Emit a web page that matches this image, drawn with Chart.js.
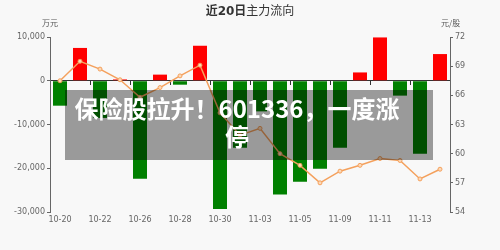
<!DOCTYPE html>
<html>
<head>
<meta charset="utf-8">
<script src="https://cdn.jsdelivr.net/npm/chart.js@4.4.1/dist/chart.umd.min.js"></script>
<style>
  html, body { margin: 0; padding: 0; background: #f8f8f8; }
  #wrap { position: relative; width: 500px; height: 250px; font-family: "DejaVu Sans", "Noto Sans CJK SC", sans-serif; }
  #chart { position: absolute; left: 0; top: 0; }
  .title { position: absolute; left: 0; width: 500px; top: 1px; text-align: center; font-size: 12px; color: #333;
           font-family: "DejaVu Sans", "Noto Sans CJK SC", sans-serif; }
  .unit { position: absolute; top: 17px; font-size: 8px; color: #555; font-family: "Noto Sans CJK SC", sans-serif; }
  .banner { position: absolute; left: 65px; top: 90px; width: 368px; height: 70px; box-sizing: border-box; padding: 4px 24px 0 0;
            background: rgba(0,0,0,.38); color: #fff; text-align: center; font: bold 24px/28px "Noto Sans CJK SC", sans-serif; }
</style>
</head>
<body>
<div id="wrap">
  <canvas id="chart" width="500" height="250"></canvas>
  <div class="title"><b>近20日</b>主力流向</div>
  <div class="unit" style="left:42px">万元</div>
  <div class="unit" style="left:441px">元/股</div>
  <div class="banner">保险股拉升！601336，一度涨<br>停</div>
</div>
<script>
var dates = ["10-20", "10-21", "10-22", "10-23", "10-26", "10-27", "10-28", "10-29", "10-30", "11-02",
             "11-03", "11-04", "11-05", "11-06", "11-09", "11-10", "11-11", "11-12", "11-13", "11-16"];
// main capital flow, 万元
var flow = [-5700, 7500, -8500, 300, -22400, 1400, -900, 8000, -29300, -15300,
            -7000, -26000, -23100, -20100, -15300, 1900, 9900, -3400, -16700, 6100];
// close price, 元/股
var price = [67.5, 69.5, 68.7, 67.6, 65.8, 66.8, 68.0, 69.1, 64.2, 61.9,
             62.6, 60.0, 58.8, 57.0, 58.2, 58.8, 59.5, 59.3, 57.4, 58.4];
var flowTicks = [-30000, -20000, -10000, 0, 10000];
var priceTicks = [54, 57, 60, 63, 66, 69, 72];

var RED = "#ff0000", GREEN = "#008000", ORANGE = "#f4a05c", AXIS = "#666", ZERO = "#333", TXT = "#666";
var tickFont = { family: "DejaVu Sans", size: 8 };

new Chart(document.getElementById("chart"), {
  data: {
    labels: dates,
    datasets: [{
      type: "line", order: 0, yAxisID: "y1", xAxisID: "x",
      data: price, borderColor: ORANGE, borderWidth: 1.5, tension: 0,
      pointRadius: 2, pointBackgroundColor: "#fcd8b6", pointBorderColor: ORANGE, pointBorderWidth: 1
    }, {
      type: "bar", order: 1, yAxisID: "y", xAxisID: "x",
      data: flow,
      backgroundColor: flow.map(function (v) { return v >= 0 ? RED : GREEN; }),
      barPercentage: 0.7, categoryPercentage: 1.0
    }]
  },
  options: {
    responsive: false, animation: false,
    layout: { padding: { top: 37 } },
    plugins: { legend: { display: false }, tooltip: { enabled: false } },
    scales: {
      x: {
        type: "category", position: { y: 0 }, offset: true,
        afterFit: function (s) { s.height = 0; },
        ticks: { display: false },
        grid: { offset: true, drawOnChartArea: false, tickLength: 4,
                color: function (c) { return c.index % 2 === 0 ? ZERO : "rgba(0,0,0,0)"; } },
        border: { color: ZERO }
      },
      x2: {
        type: "category", position: "bottom", offset: true,
        afterFit: function (s) { s.height = 38; },
        grid: { display: false, drawTicks: false }, border: { display: false },
        ticks: { autoSkip: false, maxRotation: 0, padding: 3, color: TXT, font: tickFont,
                 callback: function (v, i) { return i % 2 === 0 ? this.getLabelForValue(v) : ""; } }
      },
      y: {
        position: "left", min: flowTicks[0], max: flowTicks[flowTicks.length - 1],
        afterFit: function (s) { s.width = 50; },
        afterBuildTicks: function (s) { s.ticks = flowTicks.map(function (v) { return { value: v }; }); },
        ticks: { padding: 2, color: TXT, font: tickFont,
                 callback: function (v) { return v.toLocaleString("en-US"); } },
        grid: { drawOnChartArea: false, tickLength: 3, color: AXIS },
        border: { color: AXIS }
      },
      y1: {
        position: "right", min: priceTicks[0], max: priceTicks[priceTicks.length - 1],
        afterFit: function (s) { s.width = 50; },
        afterBuildTicks: function (s) { s.ticks = priceTicks.map(function (v) { return { value: v }; }); },
        ticks: { padding: 2, color: TXT, font: tickFont },
        grid: { drawOnChartArea: false, tickLength: 3, color: AXIS },
        border: { color: AXIS }
      }
    }
  }
});
</script>
</body>
</html>
